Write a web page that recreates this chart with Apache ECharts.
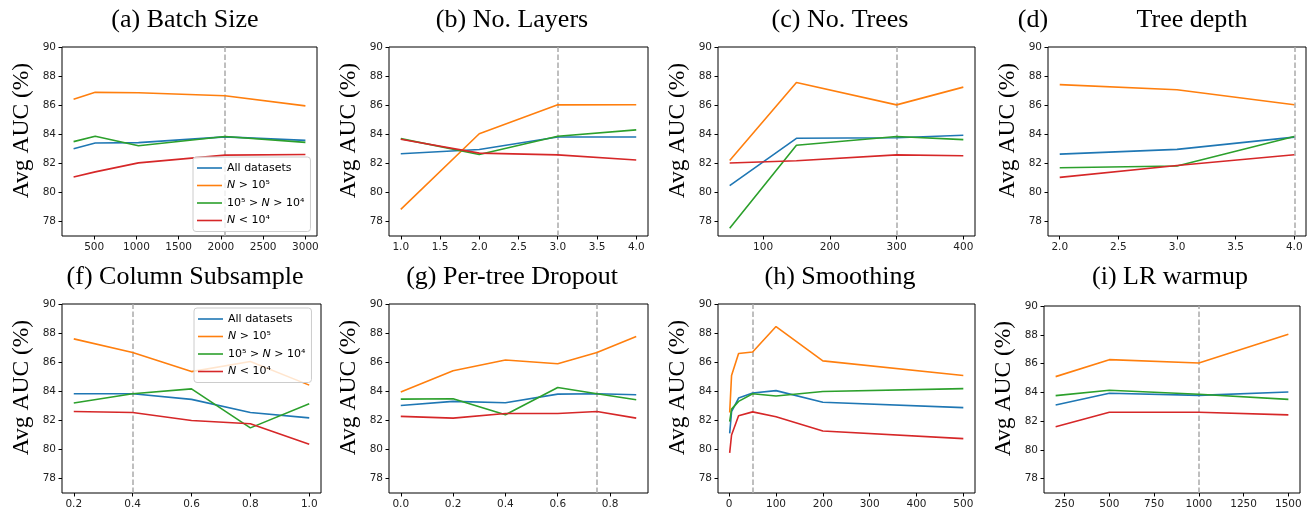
<!DOCTYPE html>
<html>
<head>
<meta charset="utf-8">
<title>Avg AUC ablations</title>
<script src="https://cdn.jsdelivr.net/npm/echarts@6/dist/echarts.min.js"></script>
<style>
  html, body { margin: 0; padding: 0; background: #fff; }
  #chart { width: 1315px; height: 513px; }
</style>
</head>
<body>
<div id="chart"></div>
<script>
// series names (legend order)
var seriesNames = ['All datasets', 'N > 10^5', '10^5 > N > 10^4', 'N < 10^4'];
var yTicks = [78, 80, 82, 84, 86, 88, 90];

// (a) batch size
var batchX = [256, 512, 1024, 2048, 3000];
var batchAll = [83.0, 83.4, 83.42, 83.82, 83.58];
var batchLarge = [86.41, 86.88, 86.85, 86.65, 85.95];
var batchMid = [83.49, 83.86, 83.21, 83.84, 83.44];
var batchSmall = [81.06, 81.41, 82.03, 82.56, 82.61];
var batchTicks = [500, 1000, 1500, 2000, 2500, 3000];

// (b) number of layers
var layersX = [1, 2, 3, 4];
var layersAll = [82.66, 82.95, 83.81, 83.81];
var layersLarge = [78.83, 84.03, 86.02, 86.03];
var layersMid = [83.7, 82.6, 83.86, 84.3];
var layersSmall = [83.66, 82.7, 82.58, 82.23];
var layersTicks = [1.0, 1.5, 2.0, 2.5, 3.0, 3.5, 4.0];

// (c) number of trees
var treesX = [50, 150, 300, 400];
var treesAll = [80.46, 83.72, 83.76, 83.93];
var treesLarge = [82.2, 87.56, 86.02, 87.24];
var treesMid = [77.54, 83.24, 83.84, 83.63];
var treesSmall = [82.02, 82.18, 82.58, 82.52];
var treesTicks = [100, 200, 300, 400];

// (d) tree depth
var depthX = [2, 3, 4];
var depthAll = [82.63, 82.96, 83.8];
var depthLarge = [87.41, 87.06, 86.03];
var depthMid = [81.69, 81.81, 83.85];
var depthSmall = [81.03, 81.85, 82.59];
var depthTicks = [2.0, 2.5, 3.0, 3.5, 4.0];

// (f) column subsample
var colX = [0.2, 0.4, 0.6, 0.8, 1.0];
var colAll = [83.83, 83.83, 83.44, 82.54, 82.17];
var colLarge = [87.6, 86.66, 85.35, 86.05, 84.42];
var colMid = [83.19, 83.83, 84.16, 81.48, 83.14];
var colSmall = [82.61, 82.54, 81.99, 81.76, 80.35];
var colTicks = [0.2, 0.4, 0.6, 0.8, 1.0];

// (g) per-tree dropout
var dropX = [0, 0.2, 0.4, 0.6, 0.75, 0.9];
var dropAll = [83.02, 83.3, 83.21, 83.8, 83.83, 83.76];
var dropLarge = [83.94, 85.41, 86.15, 85.89, 86.67, 87.77];
var dropMid = [83.46, 83.48, 82.38, 84.26, 83.83, 83.41];
var dropSmall = [82.27, 82.15, 82.47, 82.47, 82.61, 82.15];
var dropTicks = [0.0, 0.2, 0.4, 0.6, 0.8];

// (h) smoothing
var smoothX = [1, 5, 20, 50, 100, 200, 500];
var smoothAll = [81.1, 82.6, 83.53, 83.88, 84.04, 83.24, 82.87];
var smoothLarge = [82.54, 85.08, 86.59, 86.7, 88.45, 86.09, 85.08];
var smoothMid = [81.91, 82.77, 83.3, 83.83, 83.67, 83.98, 84.18];
var smoothSmall = [79.76, 80.99, 82.31, 82.58, 82.24, 81.26, 80.74];
var smoothTicks = [0, 100, 200, 300, 400, 500];

// (i) LR warmup
var warmX = [200, 500, 1000, 1500];
var warmAll = [83.12, 83.93, 83.79, 84.02];
var warmLarge = [85.09, 86.27, 86.04, 88.03];
var warmMid = [83.77, 84.14, 83.86, 83.51];
var warmSmall = [81.61, 82.61, 82.61, 82.43];
var warmTicks = [250, 500, 750, 1000, 1250, 1500];

var panels = [
  { title: '(a) Batch Size', x: batchX, ys: [batchAll, batchLarge, batchMid, batchSmall], ticks: batchTicks, chosen: 2048, dec: 0 },
  { title: '(b) No. Layers', x: layersX, ys: [layersAll, layersLarge, layersMid, layersSmall], ticks: layersTicks, chosen: 3, dec: 1 },
  { title: '(c) No. Trees', x: treesX, ys: [treesAll, treesLarge, treesMid, treesSmall], ticks: treesTicks, chosen: 300, dec: 0 },
  { title: null, x: depthX, ys: [depthAll, depthLarge, depthMid, depthSmall], ticks: depthTicks, chosen: 4, dec: 1 },
  { title: '(f) Column Subsample', x: colX, ys: [colAll, colLarge, colMid, colSmall], ticks: colTicks, chosen: 0.4, dec: 1 },
  { title: '(g) Per-tree Dropout', x: dropX, ys: [dropAll, dropLarge, dropMid, dropSmall], ticks: dropTicks, chosen: 0.75, dec: 1 },
  { title: '(h) Smoothing', x: smoothX, ys: [smoothAll, smoothLarge, smoothMid, smoothSmall], ticks: smoothTicks, chosen: 50, dec: 0 },
  { title: '(i) LR warmup', x: warmX, ys: [warmAll, warmLarge, warmMid, warmSmall], ticks: warmTicks, chosen: 1000, dec: 0 }
];

// layout of each axes box: [left, top, width, height] and title centre x
var boxes = [
  [62, 47, 255, 189, 180], [389, 47, 259, 189, 507], [718, 47, 257, 189, 835], [1048, 47, 258, 189, 0],
  [62, 304, 259, 189, 180], [389, 304, 259, 189, 507], [718, 304, 257, 189, 835], [1044, 306, 256, 187, 1165]
];

var colors = ['#1f77b4', '#ff7f0e', '#2ca02c', '#d62728'];
var serif = 'Liberation Serif, Times New Roman, serif';
var sans = 'DejaVu Sans, sans-serif';

var grids = [], xAxes = [], yAxes = [], series = [], titles = [];

panels.forEach(function (p, i) {
  var b = boxes[i];
  grids.push({
    left: b[0], top: b[1], width: b[2], height: b[3],
    show: true, borderColor: '#000', borderWidth: 1, backgroundColor: 'transparent'
  });
  var lo = p.x[0], hi = p.x[p.x.length - 1], pad = (hi - lo) * 0.05;
  xAxes.push({
    type: 'value', gridIndex: i, min: lo - pad, max: hi + pad,
    splitLine: { show: false },
    axisLine: { show: false, onZero: false },
    axisTick: { show: true, length: 3.5, customValues: p.ticks, lineStyle: { color: '#000', width: 1 } },
    axisLabel: {
      customValues: p.ticks, margin: 6, color: '#222', fontFamily: sans, fontSize: 10.5,
      formatter: (function (d) { return function (v) { return Number(v).toFixed(d); }; })(p.dec)
    }
  });
  yAxes.push({
    type: 'value', gridIndex: i, min: 77, max: 90,
    name: 'Avg AUC (%)', nameLocation: 'middle', nameGap: 28, nameRotate: 90,
    nameTextStyle: { fontFamily: serif, fontSize: 23.5, color: '#000', padding: [0, 0, 0, 22] },
    splitLine: { show: false },
    axisLine: { show: false, onZero: false },
    axisTick: { show: true, length: 3.5, customValues: yTicks, lineStyle: { color: '#000', width: 1 } },
    axisLabel: { customValues: yTicks, margin: 6, color: '#222', fontFamily: sans, fontSize: 10.5 }
  });
  p.ys.forEach(function (ys, k) {
    var s = {
      name: seriesNames[k], type: 'line', xAxisIndex: i, yAxisIndex: i,
      symbol: 'none', silent: true, z: 3,
      color: colors[k],
      lineStyle: { width: 1.6, color: colors[k] },
      data: p.x.map(function (xv, j) { return [xv, ys[j]]; })
    };
    if (k === 0) {
      s.markLine = {
        symbol: 'none', silent: true, animation: false, z: 1,
        label: { show: false },
        lineStyle: { type: [5.5, 2.5], color: '#aaaaaa', width: 1.5 },
        data: [{ xAxis: p.chosen }]
      };
    }
    series.push(s);
  });
  if (p.title) {
    titles.push({
      text: p.title, left: b[4], top: i < 4 ? 2 : 259, textAlign: 'center',
      textStyle: { fontFamily: serif, fontSize: 26, fontWeight: 'normal', color: '#000' }
    });
  }
});
// (d) has its label split in two
titles.push({ text: '(d)', left: 1028, top: 2, textAlign: 'center',
  textStyle: { fontFamily: serif, fontSize: 26, fontWeight: 'normal', color: '#000' } });
titles.push({ text: 'Tree depth', left: 1187, top: 2, textAlign: 'center',
  textStyle: { fontFamily: serif, fontSize: 26, fontWeight: 'normal', color: '#000' } });

function legendAt(left, top) {
  return {
    data: seriesNames, orient: 'vertical', left: left, top: top,
    backgroundColor: 'rgba(255,255,255,0.8)', borderColor: '#cccccc', borderWidth: 1, borderRadius: 3,
    padding: [4, 6, 4, 4], itemGap: 3.5, itemWidth: 25, itemHeight: 1.6,
    icon: 'rect',
    selectedMode: false,
    textStyle: {
      fontFamily: sans, fontSize: 11, color: '#000', lineHeight: 14,
      rich: { it: { fontFamily: sans, fontSize: 11, fontStyle: 'italic', color: '#000', lineHeight: 14 } }
    },
    formatter: function (n) {
      return n.replace(/N/g, '{it|N}').replace(/\^5/g, '\u2075').replace(/\^4/g, '\u2074');
    }
  };
}

var chart = echarts.init(document.getElementById('chart'), null, { renderer: 'canvas' });
chart.setOption({
  animation: false,
  backgroundColor: '#fff',
  title: titles,
  legend: [legendAt(193, 157), legendAt(194, 308)],
  grid: grids,
  xAxis: xAxes,
  yAxis: yAxes,
  series: series
});
</script>
</body>
</html>
